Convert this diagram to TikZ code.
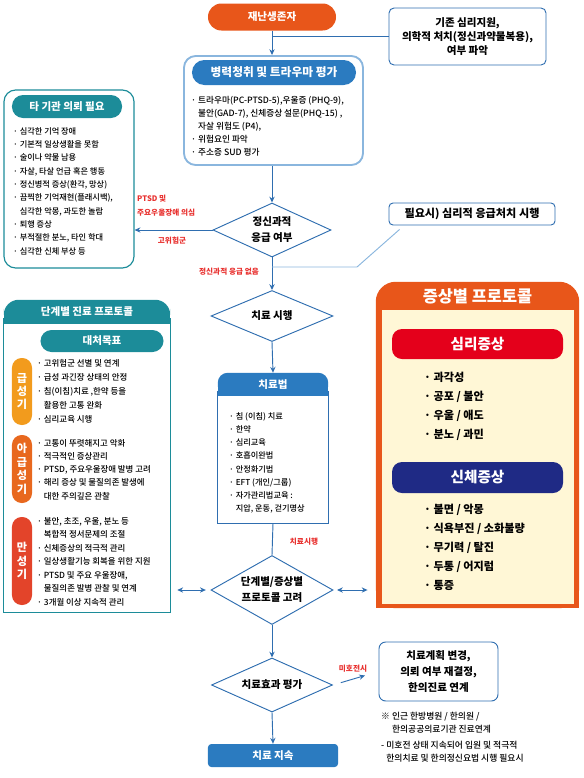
\documentclass[tikz,border=0pt]{standalone}
\usepackage{fontspec}
\setmainfont{Noto Sans CJK KR}
\newfontfamily\krmed{Noto Sans CJK KR Medium}
\usepackage{xcolor}
\usepackage{tikz}
\usetikzlibrary{arrows.meta}
\usetikzlibrary{shapes,shapes.geometric,shapes.misc}
\usetikzlibrary{calc}
\pgfdeclarelayer{edgelayer}
\pgfdeclarelayer{nodelayer}
\pgfsetlayers{edgelayer,nodelayer,main}
\definecolor{orangefill}{HTML}{E8561A}
\definecolor{mainblue}{HTML}{2B7BC0}
\definecolor{lineblue}{HTML}{2F6EB0}
\definecolor{paleblue}{HTML}{8AB6DE}
\definecolor{tealfill}{HTML}{1C8C99}
\definecolor{labelred}{HTML}{E8312F}
\definecolor{creamfill}{HTML}{FFF7D6}
\definecolor{pillred}{HTML}{E4001B}
\definecolor{pillnavy}{HTML}{1F2A85}
\definecolor{acutefill}{HTML}{F29B1D}
\definecolor{subacutefill}{HTML}{E8681E}
\definecolor{chronicfill}{HTML}{E3442A}
\newcommand{\subline}{\hphantom{·\ }}
\tikzstyle{none}=[inner sep=0mm]
\tikzstyle{start pill}=[rectangle,rounded corners=0.4cm,fill=orangefill,text=white,minimum width=3.84cm,minimum height=0.81cm,font=\bfseries\fontsize{9}{11}\selectfont]
\tikzstyle{info box}=[rectangle,rounded corners=0.15cm,draw=lineblue,line width=0.8pt,fill=white,align=center,font=\bfseries\fontsize{9}{12.3}\selectfont]
\tikzstyle{head pill}=[rectangle,rounded corners=0.33cm,text=white,minimum height=0.69cm,font=\bfseries\fontsize{9}{11}\selectfont]
\tikzstyle{decision}=[shape=diamond,aspect=2.2,inner sep=0pt,draw=lineblue,line width=0.8pt,fill=white,align=center,font=\bfseries\fontsize{9}{13.6}\selectfont]
\tikzstyle{item list}=[inner sep=0mm,anchor=north west,align=left,font=\krmed\fontsize{7}{11.4}\selectfont]
\tikzstyle{symptom list}=[inner sep=0mm,anchor=north west,align=left,font=\bfseries\fontsize{9.5}{16.2}\selectfont]
\tikzstyle{red label}=[inner sep=0mm,text=labelred,align=left,font=\bfseries\fontsize{6.5}{11.9}\selectfont]
\tikzstyle{stage badge}=[rectangle,rounded corners=0.29cm,minimum width=0.6cm,inner sep=0pt,text=white,align=center,font=\bfseries\fontsize{9.5}{11.5}\selectfont]
\tikzstyle{flow}=[draw=lineblue,line width=0.8pt,-{Stealth[length=5pt,width=4.5pt]}]
\tikzstyle{both flow}=[draw=lineblue,line width=0.8pt,{Stealth[length=5pt,width=4.5pt]}-{Stealth[length=5pt,width=4.5pt]}]
\tikzstyle{link}=[draw=lineblue,line width=0.8pt]
\tikzstyle{pale link}=[draw=paleblue,line width=0.8pt]

\begin{document}
\begin{tikzpicture}[x=0.03cm,y=-0.03cm]
	\useasboundingbox (0,0) rectangle (583,778);
	\begin{pgfonlayer}{nodelayer}
		% main flow
		\node [style={start pill}] (survivor) at (272,17) {재난생존자};
		\node [style={info box},minimum width=4.71cm,minimum height=1.71cm] (prior) at (467.5,36.5) {기존 심리지원,\\의학적 처치(정신과약물복용),\\여부 파악};
		\node [draw=paleblue,line width=1.6pt,rounded corners=0.35cm,minimum width=5.37cm,minimum height=3.27cm] (history) at (273.5,110.5) {};
		\node [style={head pill},fill=mainblue,minimum width=4.92cm,minimum height=0.75cm,rounded corners=0.37cm,font=\bfseries\fontsize{10}{12}\selectfont] (historyhead) at (274,72.5) {병력청취 및 트라우마 평가};
		\node [style={item list},font=\krmed\fontsize{7.4}{11}\selectfont] (historylist) at (191,96) {· 트라우마(PC-PTSD-5),우울증 (PHQ-9),\\\subline 불안(GAD-7), 신체증상 설문(PHQ-15) ,\\\subline 자살 위험도 (P4),\\· 위험요인 파악\\· 주소증 SUD 평가};
		\node [style=decision,minimum width=3.54cm,minimum height=1.62cm] (emergency) at (272,230) {정신과적\\응급 여부};
		\node [style={info box},minimum width=4.98cm,minimum height=0.66cm,rounded corners=0.12cm,font=\bfseries\fontsize{9.5}{11}\selectfont] (firstaid) at (472,214) {필요시) 심리적 응급처치 시행};
		\node [style=decision,minimum width=3.66cm,minimum height=1.53cm] (treat) at (272,316) {치료 시행};
		% therapy box
		\node [style=none,minimum width=3.3cm,minimum height=4.5cm] (therapy) at (273,448) {};
		\fill [mainblue,rounded corners=0.3cm] (therapy.north west) rectangle ($(therapy.north east)+(0,23)$);
		\fill [mainblue] ($(therapy.north west)+(0,12)$) rectangle ($(therapy.north east)+(0,23)$);
		\draw [style=link] ($(therapy.north west)+(0,18)$) |- (therapy.south east) -- ($(therapy.north east)+(0,18)$);
		\node [text=white,font=\bfseries\fontsize{9}{11}\selectfont] (therapyhead) at ($(therapy.north)+(0,11.5)$) {치료법};
		\node [style={item list},font=\krmed\fontsize{7}{11.3}\selectfont] (therapylist) at (229,412) {· 침 (이침) 치료\\· 한약\\· 심리교육\\· 호흡이완법\\· 안정화기법\\· EFT (개인/그룹)\\· 자가관리법교육 :\\\subline 지압, 운동, 걷기명상};
		\node [style=decision,minimum width=3.66cm,minimum height=2.07cm] (protocol) at (272,590) {단계별/증상별\\프로토콜 고려};
		\node [style=decision,minimum width=3.63cm,minimum height=1.62cm] (outcome) at (272,685) {치료효과 평가};
		\node [style={info box},minimum width=3.57cm,minimum height=1.77cm,rounded corners=0.2cm,font=\bfseries\fontsize{9}{13.6}\selectfont] (change) at (438.5,671.5) {치료계획 변경,\\의뢰 여부 재결정,\\한의진료 연계};
		\node [style={item list},font=\krmed\fontsize{7.5}{11.2}\selectfont] (notes) at (381,712) {※ 인근 한방병원 / 한의원 /\\\hphantom{※ }한의공공의료기관 진료연계\\[2pt]- 미호전 상태 지속되어 입원 및 적극적\\\hphantom{- }한의치료 및 한의정신요법 시행 필요시};
		\node [rectangle,rounded corners=0.1cm,fill=mainblue,text=white,minimum width=3.9cm,minimum height=0.69cm,font=\bfseries\fontsize{9}{11}\selectfont] (continue) at (273,755.5) {치료 지속};
		% referral box
		\node [draw=tealfill,line width=1pt,rounded corners=0.35cm,minimum width=3.9cm,minimum height=5.34cm] (referral) at (69,179) {};
		\node [style={head pill},fill=tealfill,minimum width=3.3cm] (referralhead) at (67,106.5) {타 기관 의뢰 필요};
		\node [style={item list}] (referrallist) at (13,127) {· 심각한 기억 장애\\· 기본적 일상생활을 못함\\· 술이나 약물 남용\\· 자살, 타살 언급 혹은 행동\\· 정신병적 증상(환각, 망상)\\· 끔찍한 기억재현(플래시백),\\\subline 심각한 악몽, 과도한 놀람\\· 퇴행 증상\\· 부적절한 분노, 타인 학대\\· 심각한 신체 부상 등};
		% stage panel
		\node [style=none,minimum width=4.98cm,minimum height=9.36cm] (stage) at (87,456) {};
		\fill [tealfill,rounded corners=0.45cm] (stage.north west) rectangle ($(stage.north east)+(0,24)$);
		\fill [tealfill] ($(stage.north west)+(0,12)$) rectangle ($(stage.north east)+(0,24)$);
		\draw [draw=tealfill,line width=1pt] ($(stage.north west)+(0,18)$) |- (stage.south east) -- ($(stage.north east)+(0,18)$);
		\node [text=white,font=\bfseries\fontsize{9}{11}\selectfont] (stagehead) at ($(stage.north)+(0,12)$) {단계별 진료 프로토콜};
		\node [style={head pill},fill=tealfill,minimum width=3.69cm,minimum height=0.66cm,font=\bfseries\fontsize{9}{11}\selectfont] (goal) at (102,341) {대처목표};
		\node [style={stage badge},fill=acutefill,minimum height=2.01cm] (acute) at (22,391.5) {급\\성\\기};
		\node [style={stage badge},fill=subacutefill,minimum height=2.04cm] (subacute) at (22,469) {아\\급\\성\\기};
		\node [style={stage badge},fill=chronicfill,minimum height=2.64cm] (chronic) at (22,561) {만\\성\\기};
		\node [style={item list},font=\krmed\fontsize{7.2}{11.9}\selectfont] (acutelist) at (37,359) {· 고위험군 선별 및 연계\\· 급성 과긴장 상태의 안정\\· 침(이침)치료 ,한약 등을\\\subline 활용한 고통 완화\\· 심리교육 시행};
		\node [style={item list},font=\krmed\fontsize{7.2}{11.3}\selectfont] (subacutelist) at (37,439) {· 고통이 뚜렷해지고 악화\\· 적극적인 증상관리\\· PTSD, 주요우울장애 발병 고려\\· 해리 증상 및 물질의존 발생에\\\subline 대한 주의깊은 관찰};
		\node [style={item list},font=\krmed\fontsize{7.2}{11.5}\selectfont] (chroniclist) at (37,517) {· 불안, 초조, 우울, 분노 등\\\subline 복합적 정서문제의 조절\\· 신체증상의 적극적 관리\\· 일상생활기능 회복을 위한 지원\\· PTSD 및 주요 우울장애,\\\subline 물질의존 발병 관찰 및 연계\\· 3개월 이상 지속적 관리};
		% symptom panel
		\node [style=none,minimum width=6.09cm,minimum height=9.78cm] (symptom) at (477.5,445) {};
		\fill [orangefill,rounded corners=0.6cm] (symptom.north west) rectangle (symptom.south east);
		\fill [orangefill] ($(symptom.north west)+(0,40)$) rectangle (symptom.south east);
		\fill [creamfill] (382,310) rectangle (574,604);
		\node [text=white,font=\bfseries\fontsize{14}{16}\selectfont] (symptomhead) at (477.5,296) {증상별 프로토콜};
		\node [style={head pill},fill=pillred,minimum width=5.13cm,minimum height=0.9cm,rounded corners=0.3cm,font=\bfseries\fontsize{12.5}{14}\selectfont] (mental) at (477.5,344) {심리증상};
		\node [style={symptom list}] (mentallist) at (424,372) {· 과각성\\· 공포 / 불안\\· 우울 / 애도\\· 분노 / 과민};
		\node [style={head pill},fill=pillnavy,minimum width=5.13cm,minimum height=0.93cm,rounded corners=0.3cm,font=\bfseries\fontsize{12.5}{14}\selectfont] (body) at (477.5,477.5) {신체증상};
		\node [style={symptom list}] (bodylist) at (424,504) {· 불면 / 악몽\\· 식욕부진 / 소화불량\\· 무기력 / 탈진\\· 두통 / 어지럼\\· 통증};
		% red labels
		\node [style={red label},anchor=north west] (ptsdlabel) at (137,195) {PTSD 및\\주요우울장애 의심};
		\node [style={red label}] (risklabel) at (172,241) {고위험군};
		\node [style={red label}] (nolabel) at (229,272) {정신과적 응급 없음};
		\node [style={red label}] (dolabel) at (304,542) {치료시행};
		\node [style={red label}] (faillabel) at (353,669) {미호전시};
	\end{pgfonlayer}
	\begin{pgfonlayer}{edgelayer}
		\coordinate (aidstart) at ($(firstaid.south west)+(11,4)$);
		\coordinate (aidbend) at (357,267);
		\draw [style=flow] (survivor.south) to (survivor.south |- history.north);
		\draw [style=link] (prior.west) to (prior.west -| survivor.south);
		\draw [style=flow] (emergency.north |- history.south) to (emergency.north);
		\draw [style=flow] (emergency.west) to (emergency.west -| referral.east);
		\draw [style=flow] (emergency.south) to (treat.north);
		\draw [style={pale link}] (aidstart) -- (aidbend) -- (aidbend -| emergency.south);
		\draw [style=flow] (treat.south) to (therapy.north);
		\draw [style=link] (therapy.south) to (protocol.north);
		\draw [style={both flow},shorten <=4pt,shorten >=6pt] (protocol.west) to (protocol.west -| stage.east);
		\draw [style={both flow},shorten <=3pt,shorten >=7pt] (protocol.east) to (protocol.east -| symptom.west);
		\draw [style=flow] (protocol.south) to (outcome.north);
		\draw [style=flow,shorten <=7pt,shorten >=12pt] (outcome.east) to (change.west);
		\draw [style=flow] (outcome.south) to (continue.north);
	\end{pgfonlayer}
\end{tikzpicture}
\end{document}
